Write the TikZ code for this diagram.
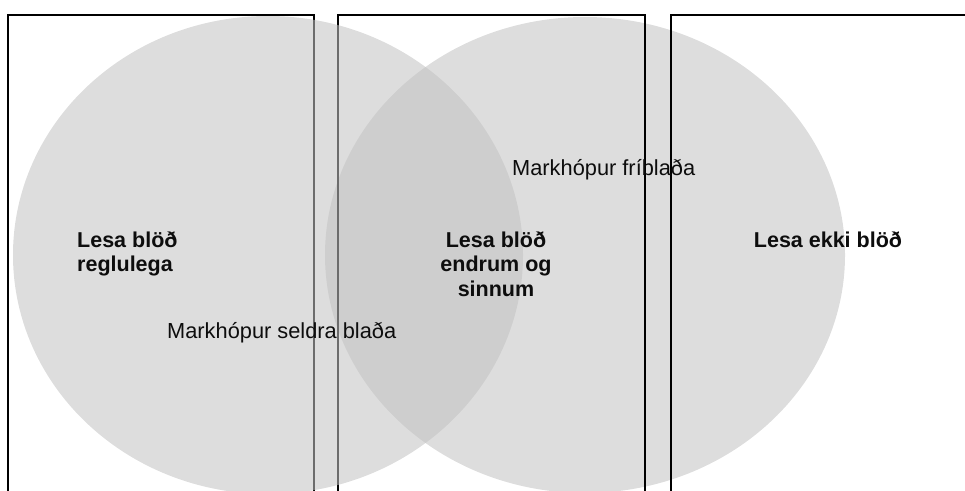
\documentclass[tikz,border=0pt]{standalone}
\usepackage{fontspec}
\setmainfont{Liberation Sans}
\definecolor{setgray}{HTML}{C2C2C2}
\begin{document}
\begin{tikzpicture}[x=1pt,y=-1pt,
  setshape/.style={fill=setgray,fill opacity=0.56,draw=none},
  frame/.style={draw=black,line width=1.6pt},
  grouplabel/.style={font=\bfseries\fontsize{21.5}{24.5}\selectfont,inner sep=0pt,text=black!95},
  targetlabel/.style={font=\fontsize{21.8}{24}\selectfont,inner sep=0pt,text=black!95}]
\useasboundingbox (0,0) rectangle (965,490);
\begin{scope}
\clip (0,0) rectangle (965,490);
% right ellipse sits beneath the frames
\fill[setshape] (585,255) ellipse [x radius=260,y radius=238];
% three open-bottomed frames
\draw[frame] (8,495) -- (8,15) -- (314,15) -- (314,495);
\draw[frame] (338,495) -- (338,15) -- (645,15) -- (645,495);
\draw[frame] (671,495) -- (671,15) -- (975,15);
% left ellipse drawn over the frames
\fill[setshape] (268,255) ellipse [x radius=255,y radius=239];
\end{scope}
% group labels (base anchor sits on the last line)
\node[grouplabel,align=left,anchor=base west] (reg) at (77,271.5) {Lesa blöð\\reglulega};
\node[grouplabel,align=center,anchor=base] (occ) at (496,296) {Lesa blöð\\endrum og\\sinnum};
\node[grouplabel,anchor=base] (non) at (828,247) {Lesa ekki blöð};
% target group labels
\node[targetlabel,anchor=base west] (free) at (512,175) {Markhópur fríblaða};
\node[targetlabel,anchor=base west] (sold) at (167,338) {Markhópur seldra blaða};
\end{tikzpicture}
\end{document}
